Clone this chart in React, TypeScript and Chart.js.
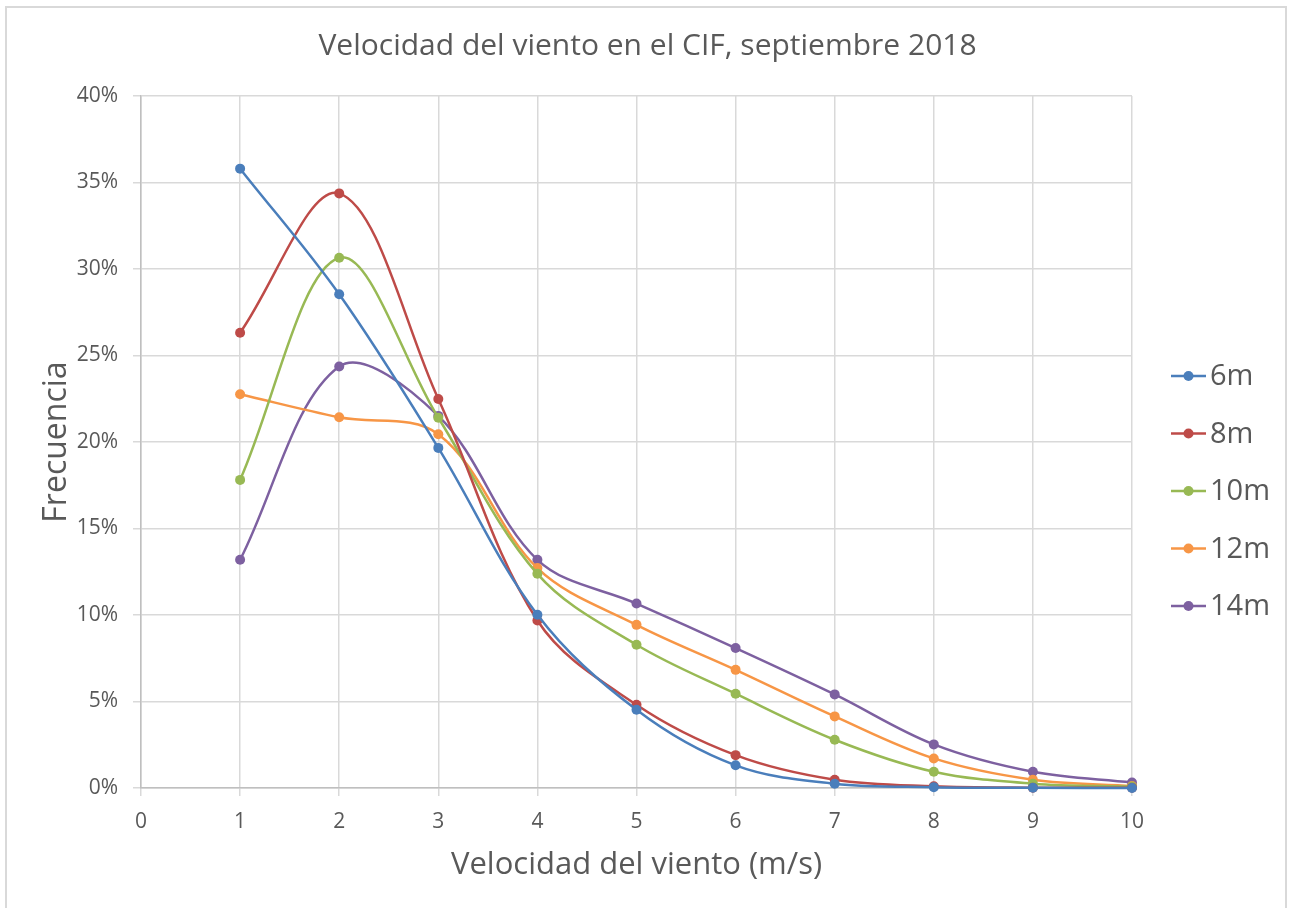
import React, { useEffect, useRef } from "react";
import { Chart, registerables } from "chart.js";

Chart.register(...registerables);

const speeds = [1, 2, 3, 4, 5, 6, 7, 8, 9, 10];
const seriesLabels = ["6m", "8m", "10m", "12m", "14m"];
const seriesColors = ["#4A7EBB", "#BE4B48", "#98B954", "#F79646", "#7D60A0"];
const s6m = [35.8, 28.54, 19.66, 10.01, 4.52, 1.31, 0.25, 0.05, 0.01, 0.0];
const s8m = [26.32, 34.37, 22.49, 9.68, 4.81, 1.9, 0.48, 0.1, 0.02, 0.01];
const s10m = [17.81, 30.65, 21.4, 12.38, 8.28, 5.45, 2.79, 0.94, 0.25, 0.08];
const s12m = [22.76, 21.43, 20.45, 12.71, 9.43, 6.83, 4.14, 1.71, 0.48, 0.12];
const s14m = [13.19, 24.36, 21.51, 13.19, 10.66, 8.09, 5.41, 2.52, 0.94, 0.32];
const allSeries = [s6m, s8m, s10m, s12m, s14m];

const titleText = "Velocidad del viento en el CIF, septiembre 2018";
const xTitle = "Velocidad del viento (m/s)";
const yTitle = "Frecuencia";

const FONT = "'Open Sans', 'Noto Sans', sans-serif";
const TEXT = "#595959";

const decorPlugin = {
  id: "decor",
  afterDraw(chart: any) {
    const ctx = chart.ctx;
    ctx.save();
    // chart title, centred on the whole canvas
    ctx.fillStyle = TEXT;
    ctx.font = `30px ${FONT}`;
    ctx.textAlign = "center";
    ctx.textBaseline = "middle";
    ctx.fillText(titleText, chart.width / 2, 46);
    // legend on the right
    chart.data.datasets.forEach((ds: any, i: number) => {
      const y = 376 + 57.5 * i;
      ctx.strokeStyle = ds.borderColor;
      ctx.lineWidth = 2.5;
      ctx.beginPath();
      ctx.moveTo(1171, y);
      ctx.lineTo(1206, y);
      ctx.stroke();
      ctx.fillStyle = ds.borderColor;
      ctx.beginPath();
      ctx.arc(1188.5, y, 5, 0, Math.PI * 2);
      ctx.fill();
      ctx.fillStyle = TEXT;
      ctx.font = `29px ${FONT}`;
      ctx.textAlign = "left";
      ctx.textBaseline = "middle";
      ctx.fillText(ds.label, 1210, y + 1);
    });
    ctx.restore();
  },
};

export default function App() {
  const ref = useRef<HTMLCanvasElement>(null);
  useEffect(() => {
    if (!ref.current) return;
    const chart = new Chart(ref.current, {
      type: "line",
      data: {
        datasets: allSeries.map((vals, i) => ({
          label: seriesLabels[i],
          data: vals.map((v, j) => ({ x: speeds[j], y: v })),
          borderColor: seriesColors[i],
          backgroundColor: seriesColors[i],
          borderWidth: 2.5,
          pointRadius: 5,
          pointBorderWidth: 0,
          pointHoverRadius: 5,
          tension: 0.35,
          fill: false,
          clip: 8,
        })),
      },
      options: {
        animation: false,
        responsive: false,
        maintainAspectRatio: false,
        layout: { padding: { left: 0, right: 163, top: 96, bottom: 0 } },
        plugins: {
          legend: { display: false },
          tooltip: { enabled: false },
          title: { display: false },
        },
        scales: {
          x: {
            type: "linear",
            min: 0,
            max: 10,
            afterFit: (scale: any) => {
              scale.height = 908 - 788;
            },
            ticks: {
              stepSize: 1,
              color: TEXT,
              padding: 13,
              font: { family: FONT, size: 21 },
              maxRotation: 0,
            },
            grid: {
              color: "#D9D9D9",
              lineWidth: 1.5,
              tickLength: 8,
              drawTicks: true,
            },
            border: { color: "#BFBFBF", width: 1.5 },
            title: {
              display: true,
              text: xTitle,
              color: TEXT,
              font: { family: FONT, size: 31, lineHeight: 1.2 },
              padding: { top: 0, bottom: 24 },
            },
          },
          y: {
            type: "linear",
            min: 0,
            max: 40,
            afterFit: (scale: any) => {
              scale.width = 141;
            },
            ticks: {
              stepSize: 5,
              color: TEXT,
              padding: 15,
              font: { family: FONT, size: 21 },
              callback: (v: any) => `${v}%`,
            },
            grid: {
              color: "#D9D9D9",
              lineWidth: 1.5,
              tickLength: 8,
            },
            border: { color: "#BFBFBF", width: 1.5 },
            title: {
              display: true,
              text: yTitle,
              color: TEXT,
              font: { family: FONT, size: 32, lineHeight: 1.2 },
              padding: { top: 38, bottom: 0 },
            },
          },
        },
      },
      plugins: [decorPlugin],
    } as any);
    return () => chart.destroy();
  }, []);

  return (
    <div
      style={{
        position: "absolute",
        left: 0,
        top: 0,
        width: 1295,
        height: 908,
        overflow: "hidden",
        background: "#fff",
      }}
    >
      <div
        style={{
          position: "absolute",
          left: 5,
          top: 6,
          width: 1282,
          height: 930,
          border: "2px solid #D9D9D9",
          boxSizing: "border-box",
        }}
      />
      <canvas
        ref={ref}
        width={1295}
        height={908}
        style={{ position: "absolute", left: 0, top: 0, width: 1295, height: 908 }}
      />
    </div>
  );
}
